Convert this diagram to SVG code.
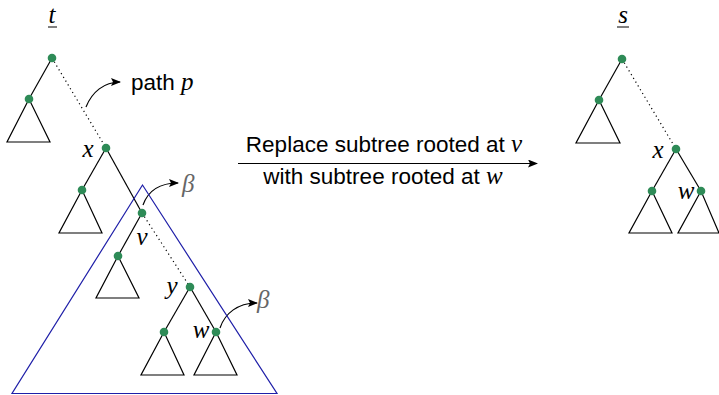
<svg xmlns="http://www.w3.org/2000/svg" width="719" height="395" viewBox="0 0 719 395">
<style>
.e{stroke:#000;stroke-width:1.2;fill:none}
.d{stroke:#000;stroke-width:1.2;fill:none;stroke-dasharray:1.2 3.2}
.tri{stroke:#000;stroke-width:1.2;fill:none;stroke-linejoin:miter}
.n{fill:#2e8b57}
.m{font-family:"Liberation Serif",serif;font-style:italic;font-size:25px;fill:#000}
.g{font-family:"Liberation Serif",serif;font-style:italic;font-size:25px;fill:#666}
.s{font-family:"Liberation Sans",sans-serif;font-size:22.5px;fill:#000}
.a{stroke:#000;stroke-width:1.2;fill:none;marker-end:url(#ah)}
</style>
<defs>
<marker id="ah" viewBox="0 0 10 8" refX="9" refY="4" markerWidth="10" markerHeight="8" markerUnits="userSpaceOnUse" orient="auto">
<path d="M0,0 L10,4 L0,8 L2,4 Z" fill="#000"/>
</marker>
</defs>
<rect width="719" height="395" fill="#fff"/>

<g id="tree-t">
  <text class="m" x="52" y="23" text-anchor="middle">t</text>
  <line x1="48" y1="27" x2="57" y2="27" stroke="#000" stroke-width="1"/>
</g>

<g id="connectors">
  <line class="e" x1="52" y1="58" x2="29" y2="99"/>
  <line class="d" x1="52" y1="58" x2="106" y2="148"/>
  <line class="e" x1="106" y1="148" x2="82" y2="190"/>
  <line class="e" x1="106" y1="148" x2="142" y2="213"/>
  <line class="e" x1="142" y1="213" x2="118" y2="256"/>
  <line class="d" x1="142" y1="213" x2="190" y2="287"/>
  <line class="e" x1="190" y1="287" x2="164" y2="332"/>
  <line class="e" x1="190" y1="287" x2="216" y2="332"/>
  <line class="e" x1="622" y1="59" x2="599" y2="100"/>
  <line class="d" x1="622" y1="59" x2="676" y2="149"/>
  <line class="e" x1="676" y1="149" x2="652" y2="191"/>
  <line class="e" x1="676" y1="149" x2="701" y2="191"/>
  <path class="a" d="M86,107 C92,92 104,82 120,82"/>
  <path class="a" d="M143,205 C148,191 160,183 178,183"/>
  <path class="a" d="M220,328 C225,313 238,303 257,303"/>
  <line class="a" x1="238" y1="163.5" x2="537" y2="163.5"/>
</g>

<g id="subtree-beta">
  <polygon points="142.5,185 12,393.5 277,393.5" fill="none" stroke="#1f1fa8" stroke-width="1.2"/>
</g>

<g id="node-t-root"><circle class="n" cx="52" cy="58" r="4.3"/></g>
<g id="node-t-left">
  <polygon class="tri" points="29,99 7,142 50,142"/>
  <circle class="n" cx="29" cy="99" r="4.3"/>
</g>
<g id="node-x">
  <circle class="n" cx="106" cy="148" r="4.3"/>
  <text class="m" x="88" y="157" text-anchor="middle">x</text>
</g>
<g id="node-x-left">
  <polygon class="tri" points="82,190 59,233 102,233"/>
  <circle class="n" cx="82" cy="190" r="4.3"/>
</g>
<g id="node-v">
  <circle class="n" cx="142" cy="213" r="4.3"/>
  <text class="m" x="142" y="245" text-anchor="middle">v</text>
</g>
<g id="node-v-left">
  <polygon class="tri" points="118,256 96,298 139,298"/>
  <circle class="n" cx="118" cy="256" r="4.3"/>
</g>
<g id="node-y">
  <circle class="n" cx="190" cy="287" r="4.3"/>
  <text class="m" x="172" y="294" text-anchor="middle">y</text>
</g>
<g id="node-y-left">
  <polygon class="tri" points="164,332 141,375 184,375"/>
  <circle class="n" cx="164" cy="332" r="4.3"/>
</g>
<g id="node-w">
  <polygon class="tri" points="216,332 194,375 237,375"/>
  <circle class="n" cx="216" cy="332" r="4.3"/>
  <text class="m" x="201" y="338" text-anchor="middle">w</text>
</g>

<g id="label-path">
  <text x="131" y="90"><tspan class="s">path </tspan><tspan class="m">p</tspan></text>
</g>
<g id="label-beta1"><text class="g" x="182" y="192">β</text></g>
<g id="label-beta2"><text class="g" x="257" y="308">β</text></g>

<g id="label-arrow">
  <text x="384" y="152" text-anchor="middle"><tspan class="s">Replace subtree rooted at </tspan><tspan class="m">v</tspan></text>
  <text x="383" y="184" text-anchor="middle"><tspan class="s">with subtree rooted at </tspan><tspan class="m">w</tspan></text>
</g>

<g id="tree-s">
  <text class="m" x="623" y="23" text-anchor="middle">s</text>
  <line x1="617" y1="27" x2="629" y2="27" stroke="#000" stroke-width="1"/>
</g>
<g id="node-s-root"><circle class="n" cx="622" cy="59" r="4.3"/></g>
<g id="node-s-left">
  <polygon class="tri" points="599,100 576,143 620,143"/>
  <circle class="n" cx="599" cy="100" r="4.3"/>
</g>
<g id="node-s-x">
  <circle class="n" cx="676" cy="149" r="4.3"/>
  <text class="m" x="658" y="158" text-anchor="middle">x</text>
</g>
<g id="node-s-x-left">
  <polygon class="tri" points="652,191 629,233 672,233"/>
  <circle class="n" cx="652" cy="191" r="4.3"/>
</g>
<g id="node-s-w">
  <polygon class="tri" points="701,191 678,233 719,233"/>
  <circle class="n" cx="701" cy="191" r="4.3"/>
  <text class="m" x="686" y="199" text-anchor="middle">w</text>
</g>
</svg>
